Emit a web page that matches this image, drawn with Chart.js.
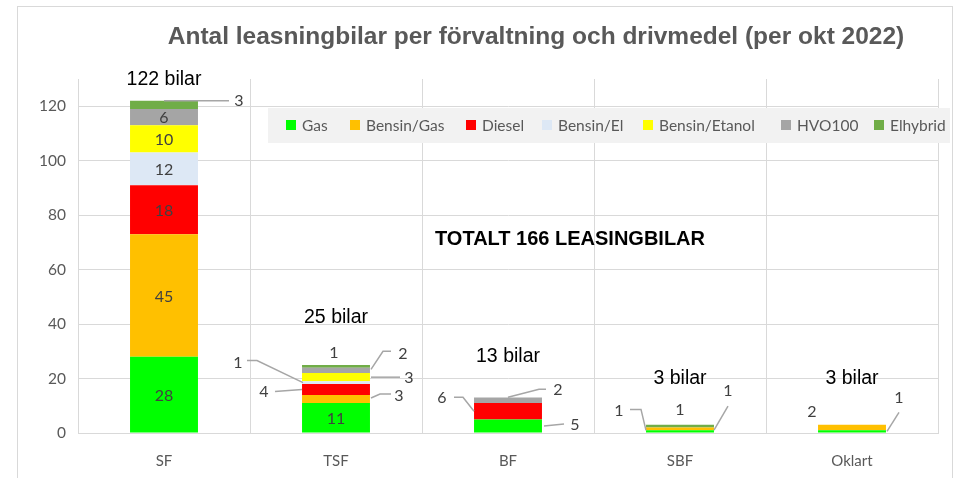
<!DOCTYPE html>
<html>
<head>
<meta charset="utf-8">
<script src="https://cdn.jsdelivr.net/npm/chart.js@4.4.0/dist/chart.umd.min.js"></script>
<style>
  body { margin: 0; background: #fff; }
  canvas { display: block; }
</style>
</head>
<body>
<canvas id="leasingChart" width="962" height="478"></canvas>
<script>
const categories = ["SF", "TSF", "BF", "SBF", "Oklart"];
const gas = [28, 11, 5, 1, 1];
const bensinGas = [45, 3, 0, 1, 2];
const diesel = [18, 4, 6, 0, 0];
const bensinEl = [12, 1, 0, 0, 0];
const bensinEtanol = [10, 3, 0, 0, 0];
const hvo100 = [6, 2, 2, 0, 0];
const elhybrid = [3, 1, 0, 1, 0];

const chartTitle = "Antal leasningbilar per förvaltning och drivmedel (per okt 2022)";
const totalText = "TOTALT 166 LEASINGBILAR";

// label offsets for small segments (pixels from the segment centre)
const callouts = [
  { ds: 6, cat: 0, label: [75, -4], line: [[0, -4], [65, -4]] },
  { ds: 6, cat: 1, label: [-2, -13] },
  { ds: 5, cat: 1, label: [67, -17], line: [[35, -1], [47, -19], [55, -19]] },
  { ds: 4, cat: 1, label: [73, 1], line: [[35, 0], [64, 0]] },
  { ds: 3, cat: 1, label: [-98, -20], line: [[-33, 0], [-79, -22], [-89, -22]] },
  { ds: 2, cat: 1, label: [-72, 2], line: [[-34, 0], [-61, 2]] },
  { ds: 1, cat: 1, label: [63, -3], line: [[35, -1], [44, -5], [55, -5]] },
  { ds: 2, cat: 2, label: [-66, -13], line: [[-34, 0], [-45, -14], [-54, -14]] },
  { ds: 5, cat: 2, label: [50, -10], line: [[0, -3], [31, -11], [38, -11]] },
  { ds: 0, cat: 2, label: [67, -1], line: [[36, 0], [56, -2]] },
  { ds: 0, cat: 3, label: [-61, -21], line: [[-34, -1], [-39, -22], [-50, -22]] },
  { ds: 1, cat: 3, label: [0, -19] },
  { ds: 6, cat: 3, label: [48, -35], line: [[34, 4], [48, -20]] },
  { ds: 1, cat: 4, label: [-40, -16] },
  { ds: 0, cat: 4, label: [47, -34], line: [[35, 0], [47, -19]] }
];
const totalOffsets = [-21, -47, -41, -46, -46];
const legendX = [286, 350, 466, 542, 643, 781, 874];

const labelPlugin = {
  id: "labels",
  beforeDraw(chart) {
    const ctx = chart.ctx;
    ctx.save();
    ctx.fillStyle = "#fff";
    ctx.fillRect(0, 0, chart.width, chart.height);
    ctx.strokeStyle = "#d9d9d9";
    ctx.lineWidth = 1;
    ctx.strokeRect(17.5, 6.5, 935, 490);
    ctx.restore();
  },
  afterDatasetsDraw(chart) {
    const ctx = chart.ctx;
    ctx.save();
    ctx.textAlign = "center";
    ctx.textBaseline = "middle";
    ctx.font = "16px Lato";
    chart.data.datasets.forEach((ds, di) => {
      const meta = chart.getDatasetMeta(di);
      meta.data.forEach((bar, ci) => {
        const v = ds.data[ci];
        if (!v) return;
        const cx = bar.x;
        const cy = (bar.y + bar.base) / 2;
        const c = callouts.find((o) => o.ds === di && o.cat === ci);
        ctx.fillStyle = "#404040";
        if (!c) {
          ctx.fillText(String(v), cx, cy + 1);
          return;
        }
        if (c.line) {
          ctx.strokeStyle = "#a6a6a6";
          ctx.lineWidth = 1.5;
          ctx.beginPath();
          c.line.forEach((p, i) => {
            if (i === 0) ctx.moveTo(cx + p[0], cy + p[1]);
            else ctx.lineTo(cx + p[0], cy + p[1]);
          });
          ctx.stroke();
        }
        ctx.fillText(String(v), cx + c.label[0], cy + c.label[1]);
      });
    });

    // totals above each bar
    const last = chart.getDatasetMeta(chart.data.datasets.length - 1);
    const yScale = chart.scales.y;
    ctx.fillStyle = "#000";
    ctx.font = "19.5px 'Liberation Sans'";
    categories.forEach((cat, ci) => {
      let sum = 0;
      chart.data.datasets.forEach((ds) => (sum += ds.data[ci]));
      const x = last.data[ci].x;
      ctx.fillText(sum + " bilar", x, yScale.getPixelForValue(sum) + totalOffsets[ci]);
    });

    // total text
    ctx.font = "bold 20px 'Liberation Sans'";
    ctx.fillText(totalText, 570, 239);

    // title
    ctx.fillStyle = "#595959";
    ctx.font = "bold 24.5px 'Liberation Sans'";
    ctx.fillText(chartTitle, 536, 37);

    // legend
    ctx.fillStyle = "#f2f2f2";
    ctx.fillRect(268, 108, 682, 35);
    ctx.font = "15.5px Lato";
    ctx.textAlign = "left";
    chart.data.datasets.forEach((ds, i) => {
      const x = legendX[i];
      ctx.fillStyle = ds.backgroundColor;
      ctx.fillRect(x, 120, 10, 10);
      ctx.fillStyle = "#595959";
      ctx.fillText(ds.label, x + 16, 126);
    });
    ctx.restore();
  }
};

const series = [
  ["Gas", gas, "#00ff00"],
  ["Bensin/Gas", bensinGas, "#ffc000"],
  ["Diesel", diesel, "#ff0000"],
  ["Bensin/El", bensinEl, "#dde8f5"],
  ["Bensin/Etanol", bensinEtanol, "#ffff00"],
  ["HVO100", hvo100, "#a5a5a5"],
  ["Elhybrid", elhybrid, "#70ad47"]
];

new Chart(document.getElementById("leasingChart"), {
  type: "bar",
  data: {
    labels: categories,
    datasets: series.map(([label, data, color]) => ({
      label,
      data,
      backgroundColor: color,
      borderWidth: 0,
      categoryPercentage: 1,
      barPercentage: 0.395
    }))
  },
  options: {
    responsive: false,
    animation: false,
    layout: { padding: { top: 79, right: 24, left: 0, bottom: 0 } },
    plugins: {
      legend: { display: false },
      title: { display: false },
      tooltip: { enabled: false }
    },
    scales: {
      x: {
        stacked: true,
        grid: { offset: true, color: "#d9d9d9", drawTicks: false },
        border: { color: "#d9d9d9" },
        ticks: { color: "#595959", font: { family: "Lato", size: 15 }, padding: 19 },
        afterFit: (s) => { s.height = 45; }
      },
      y: {
        stacked: true,
        min: 0,
        max: 130,
        grid: {
          color: (c) => (c.tick && c.tick.value > 120 ? "rgba(0,0,0,0)" : "#d9d9d9"),
          drawTicks: false
        },
        border: { color: "#d9d9d9" },
        ticks: {
          stepSize: 20,
          color: "#595959",
          font: { family: "Lato", size: 15.5 },
          padding: 12,
          callback: (v) => (v > 120 ? "" : v)
        },
        afterFit: (s) => { s.width = 78; }
      }
    }
  },
  plugins: [labelPlugin]
});
</script>
</body>
</html>
